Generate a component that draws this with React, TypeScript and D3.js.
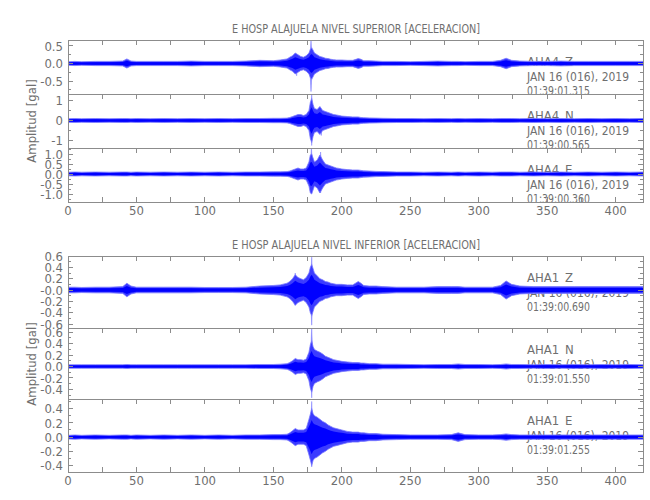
import * as d3 from "d3";

// seconds since record start (envelope read every 10 s, every 1-2 s around the event)
const TIME = [
  0, 5, 10, 20, 30, 40, 43, 46, 50, 60,
  70, 80, 90, 100, 110, 120, 130, 140, 150, 155,
  160, 162, 164, 166, 168, 170, 172, 174, 176, 177,
  178, 179, 180, 182, 184, 186, 188, 190, 192, 194,
  196, 198, 200, 204, 208, 212, 214, 216, 220, 225,
  230, 240, 250, 260, 270, 280, 285, 290, 300, 310,
  316, 320, 324, 330, 340, 350, 360, 370, 380, 390,
  400, 410, 420,
];

// amplitude envelope [gal] per channel, same length as TIME
const AHA4_Z = [
  0.05, 0.06, 0.05, 0.06, 0.06, 0.07, 0.13, 0.07, 0.06, 0.06,
  0.06, 0.06, 0.07, 0.06, 0.06, 0.06, 0.07, 0.09, 0.08, 0.1,
  0.13, 0.18, 0.22, 0.3, 0.25, 0.2, 0.18, 0.22, 0.3, 0.4,
  0.45, 0.38, 0.3, 0.25, 0.2, 0.18, 0.15, 0.14, 0.12, 0.11,
  0.1, 0.1, 0.1, 0.09, 0.09, 0.14, 0.12, 0.08, 0.08, 0.07,
  0.06, 0.06, 0.05, 0.06, 0.07, 0.06, 0.06, 0.05, 0.06, 0.06,
  0.09, 0.15, 0.09, 0.07, 0.06, 0.06, 0.07, 0.06, 0.06, 0.06,
  0.06, 0.06, 0.06,
];
const AHA4_N = [
  0.09, 0.1, 0.09, 0.1, 0.09, 0.1, 0.1, 0.09, 0.1, 0.09,
  0.1, 0.09, 0.1, 0.09, 0.1, 0.09, 0.1, 0.1, 0.11, 0.11,
  0.12, 0.15, 0.2, 0.25, 0.3, 0.3, 0.25, 0.3, 0.5, 0.9,
  1.1, 0.8, 0.6, 0.55, 0.7, 0.5, 0.45, 0.4, 0.35, 0.3,
  0.28, 0.25, 0.22, 0.2, 0.18, 0.18, 0.15, 0.14, 0.13, 0.12,
  0.11, 0.1, 0.1, 0.09, 0.1, 0.09, 0.1, 0.09, 0.1, 0.09,
  0.1, 0.1, 0.1, 0.09, 0.1, 0.09, 0.1, 0.09, 0.1, 0.09,
  0.1, 0.09, 0.1,
];
const AHA4_E = [
  0.09, 0.1, 0.09, 0.1, 0.09, 0.1, 0.1, 0.09, 0.1, 0.09,
  0.1, 0.09, 0.1, 0.09, 0.1, 0.09, 0.1, 0.1, 0.11, 0.11,
  0.12, 0.15, 0.2, 0.25, 0.3, 0.25, 0.25, 0.3, 0.6, 0.95,
  1.0, 0.8, 0.6, 0.7, 0.95, 0.7, 0.5, 0.45, 0.4, 0.35,
  0.3, 0.28, 0.25, 0.22, 0.2, 0.2, 0.18, 0.16, 0.15, 0.13,
  0.12, 0.1, 0.1, 0.09, 0.1, 0.09, 0.1, 0.09, 0.1, 0.09,
  0.1, 0.1, 0.1, 0.09, 0.1, 0.09, 0.1, 0.09, 0.1, 0.09,
  0.1, 0.09, 0.1,
];
const AHA1_Z = [
  0.05, 0.05, 0.045, 0.05, 0.05, 0.06, 0.12, 0.07, 0.05, 0.05,
  0.05, 0.05, 0.05, 0.045, 0.045, 0.045, 0.05, 0.07, 0.08, 0.09,
  0.12, 0.15, 0.2, 0.27, 0.22, 0.2, 0.18, 0.22, 0.3, 0.4,
  0.45, 0.38, 0.3, 0.25, 0.2, 0.18, 0.15, 0.14, 0.12, 0.11,
  0.1, 0.1, 0.1, 0.09, 0.09, 0.15, 0.12, 0.08, 0.07, 0.07,
  0.06, 0.05, 0.05, 0.05, 0.06, 0.06, 0.06, 0.05, 0.05, 0.05,
  0.08, 0.16, 0.1, 0.07, 0.06, 0.06, 0.06, 0.06, 0.06, 0.06,
  0.06, 0.06, 0.06,
];
const AHA1_N = [
  0.03, 0.03, 0.03, 0.03, 0.03, 0.03, 0.035, 0.03, 0.03, 0.03,
  0.03, 0.03, 0.03, 0.03, 0.03, 0.03, 0.03, 0.035, 0.035, 0.04,
  0.05, 0.07, 0.1, 0.14, 0.12, 0.12, 0.11, 0.13, 0.25, 0.38,
  0.45, 0.35, 0.3, 0.27, 0.25, 0.22, 0.18, 0.16, 0.14, 0.12,
  0.11, 0.1, 0.09, 0.08, 0.07, 0.07, 0.06, 0.06, 0.05, 0.05,
  0.04, 0.04, 0.035, 0.03, 0.035, 0.035, 0.045, 0.035, 0.035, 0.03,
  0.035, 0.045, 0.035, 0.035, 0.03, 0.035, 0.03, 0.035, 0.03, 0.035,
  0.03, 0.035, 0.03,
];
const AHA1_E = [
  0.025, 0.03, 0.025, 0.03, 0.025, 0.03, 0.03, 0.025, 0.03, 0.025,
  0.03, 0.025, 0.03, 0.025, 0.03, 0.025, 0.03, 0.03, 0.035, 0.035,
  0.04, 0.06, 0.09, 0.12, 0.1, 0.1, 0.1, 0.12, 0.25, 0.32,
  0.4, 0.33, 0.3, 0.28, 0.25, 0.22, 0.2, 0.17, 0.15, 0.13,
  0.12, 0.11, 0.1, 0.08, 0.07, 0.07, 0.06, 0.06, 0.05, 0.05,
  0.04, 0.035, 0.03, 0.03, 0.03, 0.035, 0.06, 0.035, 0.03, 0.03,
  0.035, 0.045, 0.035, 0.03, 0.03, 0.03, 0.03, 0.03, 0.03, 0.03,
  0.03, 0.03, 0.03,
];

// single spikes: [time, max, min]
const AHA4_Z_PEAKS = [[167, 0.25, -0.35], [177.5, 0.65, -0.8]];
const AHA4_N_PEAKS = [[178, 1.3, -1.25], [185, 0.45, -0.75]];
const AHA4_E_PEAKS = [[177.8, 1.35, -0.9], [184.5, 1.1, -0.95]];
const AHA1_Z_PEAKS = [[166, 0.3, -0.27], [178, 0.58, -0.62]];
const AHA1_N_PEAKS = [[178, 0.7, -0.55]];
const AHA1_E_PEAKS = [[178, 0.5, -0.42]];

const STATIONS = ["AHA4", "AHA4", "AHA4", "AHA1", "AHA1", "AHA1"];
const COMPONENTS = ["Z", "N", "E", "Z", "N", "E"];
const DATE_LABEL = "JAN 16 (016), 2019";
const START_TIMES = ["01:39:01.315", "01:39:00.565", "01:39:00.360", "01:39:00.690", "01:39:01.550", "01:39:01.255"];
const TITLES = ["E HOSP ALAJUELA NIVEL SUPERIOR [ACELERACION]", "E HOSP ALAJUELA NIVEL INFERIOR [ACELERACION]"];
const Y_TITLE = "Amplitud [gal]";

const X_TICKS = [0, 25, 50, 75, 100, 125, 150, 175, 200, 225, 250, 275, 300, 325, 350, 375, 400];
const X_LABELS = [0, 50, 100, 150, 200, 250, 300, 350, 400];

const Y_TICKS = [
  [0.5, 0, -0.5],
  [1, 0, -1],
  [1, 0.5, 0, -0.5, -1],
  [0.6, 0.4, 0.2, 0, -0.2, -0.4, -0.6],
  [0.6, 0.4, 0.2, 0, -0.2, -0.4],
  [0.4, 0.2, 0, -0.2, -0.4],
];
const Y_LABELS = [
  ["0.5", "0.0", "-0.5"],
  ["1", "0", "-1"],
  ["1.0", "0.5", "0.0", "-0.5", "-1.0"],
  ["0.6", "0.4", "0.2", "-0.0", "-0.2", "-0.4", "-0.6"],
  ["0.6", "0.4", "0.2", "0.0", "-0.2", "-0.4"],
  ["0.4", "0.2", "0.0", "-0.2", "-0.4"],
];
const Y_MINOR = [
  [0.25, -0.25, -0.75],
  [0.5, -0.5],
  [1.25, 0.75, 0.25, -0.25, -0.75, -1.25],
  [0.5, 0.3, 0.1, -0.1, -0.3, -0.5],
  [0.5, 0.3, 0.1, -0.1, -0.3, -0.5],
  [0.5, 0.3, 0.1, -0.1, -0.3],
];
const Y_DOMAINS = [
  [-0.87, 0.67],
  [-1.375, 1.325],
  [-1.4, 1.3],
  [-0.67, 0.6],
  [-0.57, 0.675],
  [-0.49, 0.535],
];

const SERIES = [AHA4_Z, AHA4_N, AHA4_E, AHA1_Z, AHA1_N, AHA1_E];
const PEAKS = [AHA4_Z_PEAKS, AHA4_N_PEAKS, AHA4_E_PEAKS, AHA1_Z_PEAKS, AHA1_N_PEAKS, AHA1_E_PEAKS];

// layout
const X0 = 68;
const X1 = 643;
const BOUNDS = [
  [40, 94], [94, 148], [148, 202],
  [256, 328], [328, 399], [399, 472],
];
const GROUPS = [
  { title: TITLES[0], titleY: 33, ylabY: 121, panels: [0, 1, 2] },
  { title: TITLES[1], titleY: 249, ylabY: 364, panels: [3, 4, 5] },
];
const AXIS = "#8c8c8c";
const TXT = "#6f6f6f";
const FONT = "'Liberation Sans Narrow', 'DejaVu Sans Condensed', sans-serif";
const FS = 13;

const x = d3.scaleLinear().domain([0, 420]).range([X0, X1]);

const Panel = ({ i, last }) => {
  const [top, bottom] = BOUNDS[i];
  const y = d3.scaleLinear().domain(Y_DOMAINS[i]).range([bottom, top]);
  const pts = TIME.map((t, k) => ({ t, a: SERIES[i][k] }));
  // outer (faint) envelope and dense core of the trace
  const outer = d3
    .area()
    .x((d) => x(d.t))
    .y0((d) => y(-d.a))
    .y1((d) => y(d.a));
  const core = d3
    .area()
    .x((d) => x(d.t))
    .y0((d) => y(-d.a * 0.6))
    .y1((d) => y(d.a * 0.6));
  const spike = d3
    .area()
    .x((d) => x(d.t))
    .y0((d) => y(d.lo))
    .y1((d) => y(d.hi));
  const clip = `clip-${i}`;
  return (
    <g>
      <defs>
        <clipPath id={clip}>
          <rect x={X0} y={top} width={X1 - X0} height={bottom - top} />
        </clipPath>
      </defs>
      {/* station info sits under the trace */}
      <g fontFamily={FONT} fontSize={FS} fill={TXT}>
        <text x={527} y={top + 25.5}>{STATIONS[i]}</text>
        <text x={565} y={top + 25.5}>{COMPONENTS[i]}</text>
        <text x={527} y={top + 40.5} textLength={102} lengthAdjust="spacingAndGlyphs">{DATE_LABEL}</text>
        <text x={527} y={top + 55} textLength={63} lengthAdjust="spacingAndGlyphs">{START_TIMES[i]}</text>
      </g>
      <g clipPath={`url(#${clip})`}>
        {PEAKS[i].map(([t, hi, lo], k) => (
          <path
            key={k}
            d={spike([
              { t: t - 1, hi: 0, lo: 0 },
              { t, hi, lo },
              { t: t + 1, hi: 0, lo: 0 },
            ])}
            fill="#6d6dff"
            stroke="#8a8aff"
            strokeWidth={0.6}
          />
        ))}
        <path d={outer(pts)} fill="#3b3bff" stroke="#7a7aff" strokeWidth={0.8} />
        <path d={core(pts)} fill="#0000ff" />
        <line x1={x(1)} x2={X1} y1={y(0)} y2={y(0)} stroke="#0000ff" strokeWidth={1.5} />
      </g>
      <g stroke={AXIS} strokeWidth={1} shapeRendering="crispEdges" fill="none">
        <rect x={X0} y={top} width={X1 - X0} height={bottom - top} />
        {Y_TICKS[i].map((v) => (
          <g key={"m" + v}>
            <line x1={X0} x2={X0 + 5} y1={y(v)} y2={y(v)} />
            <line x1={X1 - 5} x2={X1} y1={y(v)} y2={y(v)} />
          </g>
        ))}
        {Y_MINOR[i]
          .filter((v) => y(v) > top && y(v) < bottom)
          .map((v) => (
            <g key={"n" + v}>
              <line x1={X0} x2={X0 + 3} y1={y(v)} y2={y(v)} />
              <line x1={X1 - 3} x2={X1} y1={y(v)} y2={y(v)} />
            </g>
          ))}
        {X_TICKS.map((t) => (
          <line key={"t" + t} x1={x(t)} x2={x(t)} y1={top} y2={top + 5} />
        ))}
        {last &&
          X_TICKS.map((t) => (
            <line key={"b" + t} x1={x(t)} x2={x(t)} y1={bottom} y2={bottom - 5} />
          ))}
      </g>
      <g fontFamily={FONT} fontSize={FS} fill={TXT} textAnchor="end">
        {Y_TICKS[i].map((v, k) => (
          <text key={v} x={63} y={y(v)} dy="0.36em">
            {Y_LABELS[i][k]}
          </text>
        ))}
      </g>
      {last && (
        <g fontFamily={FONT} fontSize={FS} fill={TXT} textAnchor="middle">
          {X_LABELS.map((t) => (
            <text key={t} x={x(t)} y={bottom + 13}>
              {t}
            </text>
          ))}
        </g>
      )}
    </g>
  );
};

export default function App() {
  return (
    <svg width={650} height={500} style={{ position: "absolute", left: 0, top: 0, background: "#fff" }}>
      {GROUPS.map((g, gi) => (
        <g key={gi}>
          <text
            x={356}
            y={g.titleY}
            textAnchor="middle"
            fontFamily={FONT}
            fontSize={FS}
            fill={TXT}
            textLength={248}
            lengthAdjust="spacingAndGlyphs"
          >
            {g.title}
          </text>
          <text
            transform={`translate(36,${g.ylabY}) rotate(-90)`}
            textAnchor="middle"
            fontFamily={FONT}
            fontSize={FS}
            fill={TXT}
          >
            {Y_TITLE}
          </text>
          {g.panels.map((p, k) => (
            <Panel key={p} i={p} last={k === g.panels.length - 1} />
          ))}
        </g>
      ))}
    </svg>
  );
}
